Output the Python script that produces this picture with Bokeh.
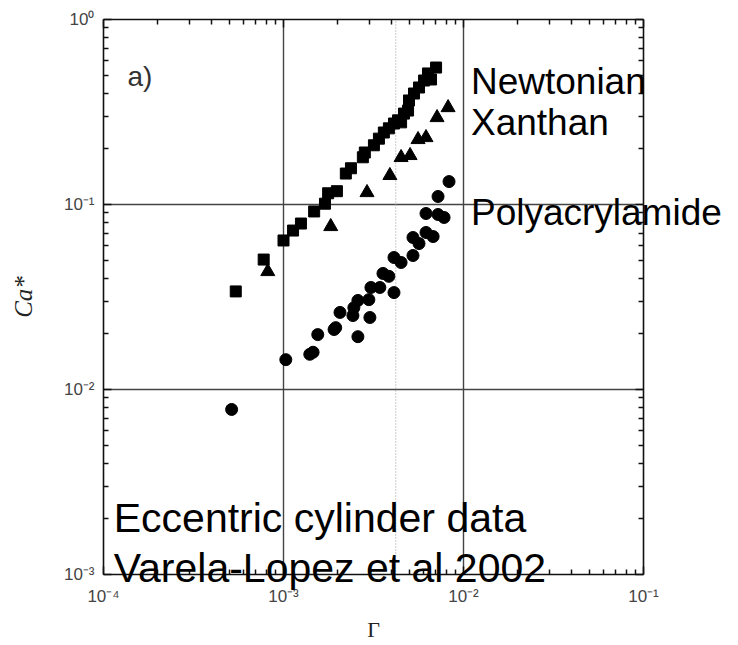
import math
from bokeh.plotting import figure
from bokeh.models import (LogAxis, FixedTicker, CustomJSTickFormatter, Label)
from bokeh.embed import file_html
from bokeh.resources import INLINE

# ---- data ----
newt_x = [5.43e-4, 7.76e-4, 1.00e-3, 1.13e-3, 1.25e-3, 1.48e-3, 1.70e-3, 1.77e-3, 1.98e-3,
          2.22e-3, 2.37e-3, 2.76e-3, 2.83e-3, 3.18e-3, 3.39e-3, 3.61e-3, 3.85e-3, 4.11e-3,
          4.33e-3, 4.50e-3, 4.67e-3, 4.92e-3, 4.98e-3, 5.31e-3, 5.66e-3, 6.04e-3, 6.35e-3,
          6.60e-3, 7.04e-3]
newt_y = [0.0339, 0.0504, 0.0639, 0.0723, 0.0789, 0.0917, 0.101, 0.115, 0.118,
          0.147, 0.157, 0.180, 0.191, 0.209, 0.227, 0.245, 0.258, 0.274,
          0.285, 0.278, 0.310, 0.322, 0.365, 0.398, 0.429, 0.468, 0.511,
          0.474, 0.55]

xan_x = [8.18e-4, 1.83e-3, 2.91e-3, 3.90e-3, 4.50e-3, 5.05e-3, 5.59e-3, 6.19e-3, 7.13e-3, 8.21e-3]
xan_y = [0.0434, 0.076, 0.116, 0.1435, 0.1795, 0.184, 0.2245, 0.230, 0.295, 0.334]

poly_x = [5.15e-4, 1.03e-3, 1.40e-3, 1.46e-3, 1.55e-3, 1.91e-3, 1.95e-3, 2.59e-3, 2.06e-3,
          2.43e-3, 2.46e-3, 2.59e-3, 3.02e-3, 2.98e-3, 3.06e-3, 3.43e-3, 3.57e-3, 3.85e-3,
          4.11e-3, 4.11e-3, 4.50e-3, 5.24e-3, 5.24e-3, 5.66e-3, 6.19e-3, 6.78e-3, 6.19e-3,
          7.22e-3, 7.80e-3, 7.22e-3, 8.31e-3]
poly_y = [0.0078, 0.0145, 0.0155, 0.0159, 0.0198, 0.0211, 0.0216, 0.0193, 0.0261,
          0.0251, 0.0277, 0.0303, 0.0245, 0.0306, 0.0356, 0.0356, 0.0424, 0.0409,
          0.0334, 0.0517, 0.0486, 0.053, 0.0663, 0.0615, 0.0706, 0.0671, 0.0894,
          0.0883, 0.0851, 0.1105, 0.133]

x_major = [1e-4, 1e-3, 1e-2, 1e-1]
y_major = [1e-3, 1e-2, 1e-1, 1e0]
dotted_x = 4.2e-3

labels = {
    "panel": ("a)", 1.36e-4, 0.492),
    "newt": ("Newtonian", 0.011, 0.462),
    "xan": ("Xanthan", 0.011, 0.277),
    "poly": ("Polyacrylamide", 0.011, 0.0905),
    "src1": ("Eccentric cylinder data", 1.14e-4, 2.03e-3),
    "src2": ("Varela-Lopez et al 2002", 1.14e-4, 1.09e-3),
}

# ---- layout: where the axes box sits on the 738x645 canvas ----
W, H = 738, 645
box_l, box_r, box_t, box_b = 103, 643, 19, 574


def minors(majors):
    out = []
    for m in majors[:-1]:
        out += [m * k for k in range(2, 10)]
    return out


def extended(lo, hi, px_lo, px_hi, px_total, flip=False):
    a, b = math.log10(lo), math.log10(hi)
    per_px = (b - a) / (px_hi - px_lo)
    if flip:  # screen y grows downward
        return 10 ** (a - (px_total - px_hi) * per_px), 10 ** (b + px_lo * per_px)
    return 10 ** (a - px_lo * per_px), 10 ** (b + (px_total - px_hi) * per_px)


xr = extended(x_major[0], x_major[-1], box_l, box_r, W)
yr = extended(y_major[0], y_major[-1], box_t, box_b, H, flip=True)

fmt_code = """
const sup = {'-':'\u207b','0':'\u2070','1':'\u00b9','2':'\u00b2','3':'\u00b3','4':'\u2074',
             '5':'\u2075','6':'\u2076','7':'\u2077','8':'\u2078','9':'\u2079'};
const e = Math.round(Math.log10(tick));
return '10' + String(e).split('').map(c => sup[c]).join('');
"""

p = figure(width=W, height=H, x_axis_type="log", y_axis_type="log",
           x_range=xr, y_range=yr, x_axis_location=None, y_axis_location=None,
           output_backend="svg", toolbar_location=None,
           min_border_left=0, min_border_right=0, min_border_top=0, min_border_bottom=0)
p.background_fill_color = "white"
p.border_fill_color = "white"
p.outline_line_color = None
p.grid.visible = False


def make_axis(majors, fixed, bounds, labelled):
    ax = LogAxis(ticker=FixedTicker(ticks=majors, minor_ticks=minors(majors)),
                 formatter=CustomJSTickFormatter(code=fmt_code if labelled else "return ''"),
                 fixed_location=fixed, bounds=bounds)
    ax.major_tick_in = 8
    ax.major_tick_out = 0
    ax.minor_tick_in = 5
    ax.minor_tick_out = 0
    ax.axis_line_color = "#111111"
    ax.axis_line_width = 1.6
    ax.major_tick_line_color = "#111111"
    ax.minor_tick_line_color = "#111111"
    ax.major_tick_line_width = 1.5
    ax.minor_tick_line_width = 1.5
    ax.major_label_text_font = "Liberation Sans"
    ax.major_label_text_font_size = "17px" if labelled else "0px"
    ax.major_label_text_color = "#444444"
    ax.axis_label_text_font = "Liberation Serif"
    ax.axis_label_text_color = "#222222"
    return ax


xb = (x_major[0], x_major[-1])
yb = (y_major[0], y_major[-1])

bottom = make_axis(x_major, y_major[0], xb, True)
bottom.axis_label = "\u0393"
bottom.axis_label_text_font_size = "22px"
bottom.axis_label_text_font_style = "normal"
bottom.major_label_standoff = 12
bottom.axis_label_standoff = 8
p.add_layout(bottom, "below")

left = make_axis(y_major, x_major[0], yb, True)
left.axis_label = "Ca*"
left.axis_label_text_font_size = "25px"
left.axis_label_text_font_style = "italic"
left.major_label_standoff = 9
left.axis_label_standoff = 24
p.add_layout(left, "left")

p.add_layout(make_axis(x_major, y_major[-1], xb, False), "above")
p.add_layout(make_axis(y_major, x_major[-1], yb, False), "right")

# grid lines at the inner decades, limited to the axes box
inner_x = x_major[1:-1]
inner_y = y_major[1:-1]
p.segment(x0=inner_x, y0=[y_major[0]] * len(inner_x), x1=inner_x, y1=[y_major[-1]] * len(inner_x),
          line_color="#444444", line_width=1.4)
p.segment(x0=[x_major[0]] * len(inner_y), y0=inner_y, x1=[x_major[-1]] * len(inner_y), y1=inner_y,
          line_color="#444444", line_width=1.4)
p.segment(x0=[dotted_x], y0=[y_major[0]], x1=[dotted_x], y1=[y_major[-1]],
          line_color="#aaaaaa", line_dash="1 2", line_width=1.2)

p.scatter(newt_x, newt_y, marker="square", size=11, color="black")
p.scatter(xan_x, xan_y, marker="triangle", size=14, color="black")
p.scatter(poly_x, poly_y, marker="circle", size=12, color="black")

sizes = {"panel": "28px", "newt": "37px", "xan": "37px", "poly": "37px",
         "src1": "41px", "src2": "41px"}
colors = {"panel": "#333333"}
for key, (txt, lx, ly) in labels.items():
    p.add_layout(Label(x=lx, y=ly, text=txt, text_font="Liberation Sans",
                       text_font_size=sizes[key], text_color=colors.get(key, "black"),
                       text_baseline="alphabetic", text_align="left"))

open("out.html", "w").write(file_html(p, INLINE))
